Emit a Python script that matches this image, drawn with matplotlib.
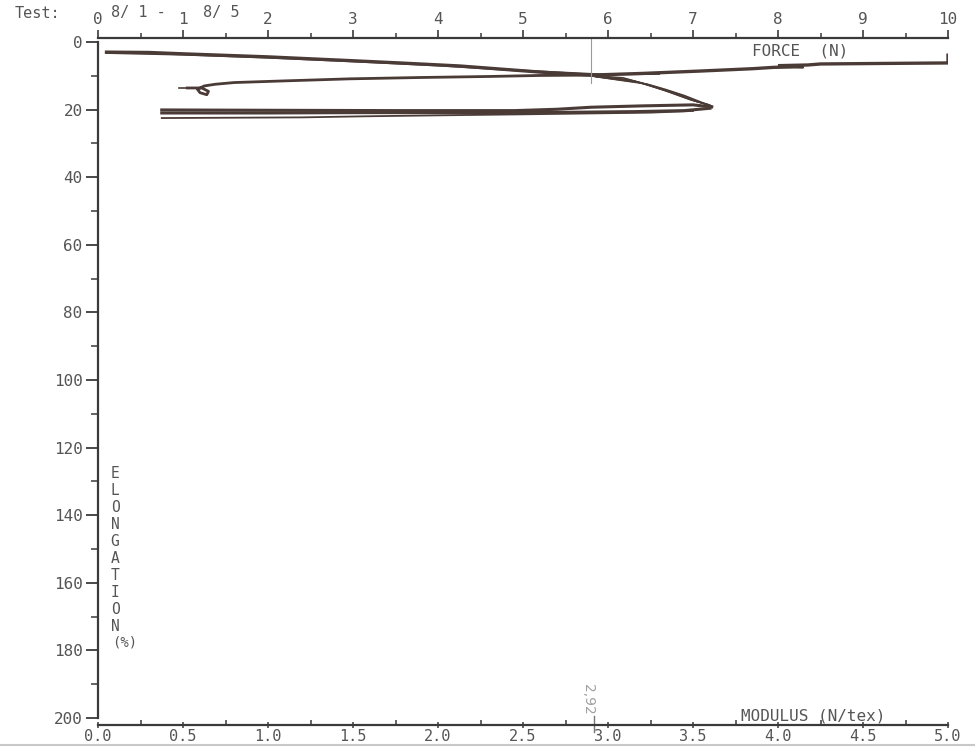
import matplotlib
matplotlib.use("Agg")
import matplotlib.pyplot as plt
from matplotlib.ticker import MultipleLocator, FixedLocator

# ---- data (force in N on the top scale, elongation in % downward) ----
# main loading trace, specimens overlapping
force_a = [0.1, 0.6, 1.0, 2.0, 2.96, 3.55, 4.26, 5.2, 5.79, 6.4, 7.08, 7.7, 7.95, 8.3, 8.0, 8.35, 8.5, 9.2, 10.0, 10.0]
elong_a = [3.0, 3.1, 3.5, 4.4, 5.5, 6.2, 7.1, 8.9, 9.8, 9.3, 8.6, 7.9, 7.5, 7.3, 7.0, 6.8, 6.5, 6.35, 6.2, 3.9]
force_a2 = [0.1, 1.0, 2.0, 3.0, 4.0, 5.0, 5.4, 5.9, 6.6]
elong_a2 = [3.2, 3.7, 4.6, 5.7, 6.9, 8.5, 9.0, 9.6, 9.4]

# second trace with the pen flourish at its start
force_b = [1.05, 1.22, 1.3, 1.28, 1.2, 1.17, 1.25, 1.38, 1.6, 2.2, 2.96, 3.8, 4.6, 5.2, 5.8]
elong_b = [13.6, 13.6, 14.6, 15.6, 15.0, 14.0, 13.0, 12.5, 12.0, 11.5, 10.9, 10.5, 10.2, 9.9, 9.8]

# bundle of traces running to the break point near 7.2 N
force_loop = [5.8, 6.18, 6.4, 6.65, 6.96, 7.1, 7.2]
elong_loop = [9.9, 10.6, 12.2, 14.2, 17.0, 18.0, 18.9]
loop_shift_f = [0.0, 0.07, 0.14, 0.21, 0.28]
loop_shift_e = [0.0, 0.55, 1.0, 1.45, 1.85]
loop_taper = [0.2, 1.0, 1.0, 0.9, 0.6, 0.35, 0.1]

# return traces back toward low force
force_r1 = [0.75, 2.0, 3.5, 4.9, 5.4, 5.8, 6.4, 7.0, 7.22]
elong_r1 = [20.1, 20.2, 20.3, 20.3, 19.9, 19.3, 18.9, 18.6, 19.2]
force_r2 = [0.75, 2.0, 3.0, 4.5, 5.5, 6.3, 6.9, 7.2]
elong_r2 = [21.0, 21.0, 20.9, 20.9, 20.8, 20.6, 20.3, 19.6]
force_r3 = [0.75, 2.4, 3.1, 4.0, 5.0, 5.6, 6.5, 7.0]
elong_r3 = [22.5, 22.3, 22.0, 21.7, 21.4, 21.2, 20.9, 20.4]

force_ticks = list(range(0, 11))
modulus_ticks = [0.0, 0.5, 1.0, 1.5, 2.0, 2.5, 3.0, 3.5, 4.0, 4.5, 5.0]
elong_ticks = list(range(0, 201, 20))
modulus_mark = 2.92
force_mark = 5.8

INK = "#4a3b37"
AXC = "#3a3a3a"
TXT = "#555555"
MONO = "DejaVu Sans Mono"
plt.rcParams["font.family"] = [MONO, "DejaVu Sans"]

W, H = 975, 751
fig = plt.figure(figsize=(W / 100, H / 100), dpi=100)
fig.patch.set_facecolor("white")

x0, x1 = 98, 948
ytop, ybot = 38, 725
ax = fig.add_axes([x0 / W, 1 - ybot / H, (x1 - x0) / W, (ybot - ytop) / H])
px_per = (718 - 42) / 200.0
ax.set_ylim((ybot - 42) / px_per, (ytop - 42) / px_per)
ax.set_xlim(0, 5)
ax.patch.set_alpha(0)

for s in ("top", "right"):
    ax.spines[s].set_visible(False)
ax.spines["left"].set_bounds(0, 200)
ax.spines["bottom"].set_bounds(0, 5)
for s in ("left", "bottom"):
    ax.spines[s].set_color(AXC)
    ax.spines[s].set_linewidth(1.6)

ax.yaxis.set_major_locator(FixedLocator(elong_ticks))
ax.yaxis.set_minor_locator(FixedLocator(list(range(10, 200, 20))))
ax.tick_params(axis="y", which="major", direction="out", length=9, width=1.3,
               color=AXC, labelsize=11.5, labelcolor=TXT, pad=2)
ax.tick_params(axis="y", which="minor", direction="out", length=5, width=1.1, color=AXC)

ax.xaxis.set_major_locator(FixedLocator(modulus_ticks))
ax.xaxis.set_minor_locator(MultipleLocator(0.25))
ax.set_xticklabels([f"{v:.1f}" for v in modulus_ticks])
ax.tick_params(axis="x", which="major", direction="inout", length=4, width=1.1,
               color=AXC, labelsize=11, labelcolor=TXT, pad=1)
ax.tick_params(axis="x", which="minor", direction="in", length=3.5, width=1.1, color=AXC)

axt = ax.twiny()
axt.set_xlim(0, 10)
for s in ("bottom", "left", "right"):
    axt.spines[s].set_visible(False)
axt.spines["top"].set_bounds(0, 10)
axt.spines["top"].set_color(AXC)
axt.spines["top"].set_linewidth(1.6)
axt.xaxis.set_major_locator(FixedLocator(force_ticks))
axt.xaxis.set_minor_locator(MultipleLocator(0.5))
axt.tick_params(axis="x", which="major", direction="out", length=6, width=1.2,
                color=AXC, labelsize=11.5, labelcolor=TXT, pad=2)
axt.tick_params(axis="x", which="minor", direction="out", length=3.5, width=1.1, color=AXC)

# traces
axt.plot(force_a, elong_a, color=INK, lw=2.4, solid_joinstyle="miter")
axt.plot(force_a2, elong_a2, color=INK, lw=1.6)
axt.plot(force_b, elong_b, color=INK, lw=2.0)
axt.plot([0.95, 1.15], [13.6, 13.6], color=INK, lw=1.2)
for df, de in zip(loop_shift_f, loop_shift_e):
    axt.plot([f + df * t for f, t in zip(force_loop, loop_taper)],
             [e + de * t for e, t in zip(elong_loop, loop_taper)],
             color=INK, lw=1.1)
axt.plot(force_r1, elong_r1, color=INK, lw=2.2)
axt.plot(force_r2, elong_r2, color=INK, lw=2.2)
axt.plot(force_r3, elong_r3, color=INK, lw=1.3)

# pencil marks
axt.plot([force_mark, force_mark], [-1.2, 12], color="#9a9a9a", lw=0.8)
ax.plot([modulus_mark, modulus_mark], [199.5, 204], color="#777777", lw=1.0, clip_on=False)
fig.text(588 / W, 1 - 699 / H, "2,92", rotation=-90, color="#a0a0a0", fontsize=10,
         ha="center", va="center", family="DejaVu Sans")

# labels
fig.text(15 / W, 1 - 14 / H, "Test:", color=TXT, fontsize=11, ha="left", va="center")
fig.text(111 / W, 1 - 12 / H, "8/ 1 -", color=TXT, fontsize=11, ha="left", va="center")
fig.text(203 / W, 1 - 12 / H, "8/ 5", color=TXT, fontsize=11, ha="left", va="center")
fig.text(800 / W, 1 - 51 / H, "FORCE  (N)", color=TXT, fontsize=11.5, ha="center", va="center")
fig.text(813 / W, 1 - 716 / H, "MODULUS (N/tex)", color=TXT, fontsize=11.5, ha="center", va="center")

for i, ch in enumerate("ELONGATION"):
    fig.text(115 / W, 1 - (474 + i * 16.9) / H, ch, color=TXT, fontsize=10.5,
             ha="center", va="center")
fig.text(125 / W, 1 - 643 / H, "(%)", color=TXT, fontsize=10, ha="center", va="center")

# faint scan edge along the bottom
fig.add_artist(plt.Line2D([0, 1], [1 - 745 / H, 1 - 745 / H], color="#c8c8c8", lw=1.5,
                          transform=fig.transFigure))

fig.savefig("out.png", dpi=100)
